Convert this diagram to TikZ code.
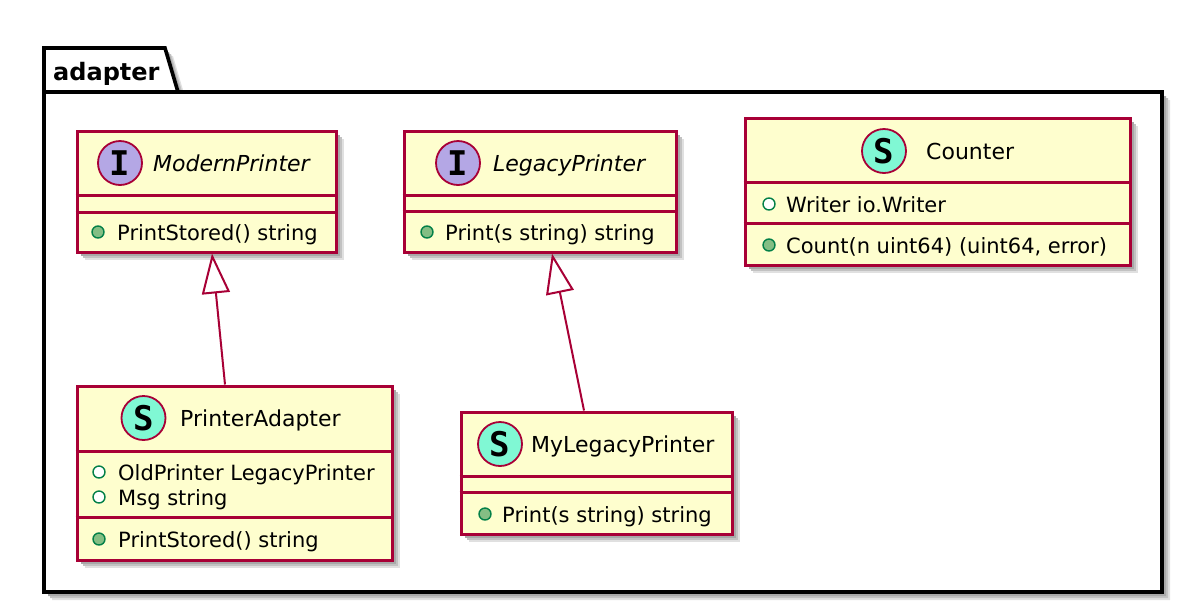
\documentclass[tikz,border=0pt]{standalone}
\usepackage{fontspec}
\setmainfont{DejaVu Sans}
\newfontfamily\spotfont{DejaVu Sans Mono}
\usetikzlibrary{arrows.meta,shadows,positioning}

\definecolor{umlborder}{HTML}{A80036}
\definecolor{umlfill}{HTML}{FEFECE}
\definecolor{ifacespot}{HTML}{B4A7E5}
\definecolor{structspot}{HTML}{80F8D4}
\definecolor{visline}{HTML}{038048}
\definecolor{visfill}{HTML}{84BE84}

\begin{document}
\begin{tikzpicture}[
	%	style def
	x=1pt, y=-1pt,
	pkg line/.style={line width=3.6pt, draw=black},
	soft shadow/.style={
		drop shadow={shadow xshift=8pt, shadow yshift=-8pt, fill=black!12, draw=none, opacity=1},
		drop shadow={shadow xshift=6pt, shadow yshift=-6pt, fill=black!24, draw=none, opacity=1},
		drop shadow={shadow xshift=4pt, shadow yshift=-4pt, fill=black!34, draw=none, opacity=1}},
	classbox/.style={draw=umlborder, fill=umlfill, line width=3pt, inner sep=0pt, soft shadow},
	sep line/.style={draw=umlborder, line width=3pt},
	spot/.style={circle, draw=umlborder, line width=1.8pt, minimum size=44pt, inner sep=0pt, font=\spotfont\bfseries\fontsize{34}{34}\selectfont},
	classname/.style={anchor=base west, inner sep=0pt, font=\fontsize{22}{26}\selectfont},
	member/.style={anchor=base west, inner sep=0pt, font=\fontsize{21}{25}\selectfont},
	field mark/.style={circle, draw=visline, line width=1.4pt, fill=white, minimum size=12pt, inner sep=0pt},
	method mark/.style={field mark, fill=visfill},
	inherit/.style={draw=umlborder, line width=2pt, -{Triangle[length=40pt, width=28pt, fill=white]}}
	]
	\useasboundingbox (0,0) rectangle (1204,614);

	% package frame with its tab
	\path[pkg line, fill=white, soft shadow] (44,592) -- (44,48) -- (165,48) -- (178,92) -- (1162,92) -- (1162,592) -- cycle;
	\draw[pkg line] (44,92) -- (178,92);
	\node[anchor=base west, inner sep=0pt, font=\bfseries\fontsize{24}{28}\selectfont] (pkgname) at (53,80) {adapter};

	% interface ModernPrinter
	\node[classbox, minimum width=259pt, minimum height=121pt] (mp) at (206.5,191.5) {};
	\draw[sep line] (mp.west |- 0,195) -- (mp.east |- 0,195);
	\draw[sep line] (mp.west |- 0,212) -- (mp.east |- 0,212);
	\node[spot, fill=ifacespot] (mpspot) at (120,163) {I};
	\node[classname] (mpname) at (153,171) {\itshape ModernPrinter};
	\node[method mark] (mpm1) at (98,232) {};
	\node[member] (mpm1text) at (117,240) {PrintStored() string};

	% interface LegacyPrinter
	\node[classbox, minimum width=272pt, minimum height=121pt] (lp) at (540,191.5) {};
	\draw[sep line] (lp.west |- 0,195) -- (lp.east |- 0,195);
	\draw[sep line] (lp.west |- 0,211) -- (lp.east |- 0,211);
	\node[spot, fill=ifacespot] (lpspot) at (458,163) {I};
	\node[classname] (lpname) at (493,171) {\itshape LegacyPrinter};
	\node[method mark] (lpm1) at (427,232) {};
	\node[member] (lpm1text) at (445,240) {Print(s string) string};

	% struct Counter
	\node[classbox, minimum width=385pt, minimum height=147pt] (ct) at (937.5,191.5) {};
	\draw[sep line] (ct.west |- 0,182) -- (ct.east |- 0,182);
	\draw[sep line] (ct.west |- 0,223) -- (ct.east |- 0,223);
	\node[spot, fill=structspot] (ctspot) at (884,151) {S};
	\node[classname] (ctname) at (926,159) {Counter};
	\node[field mark] (ctf1) at (769,204) {};
	\node[member] (ctf1text) at (786,212) {Writer io.Writer};
	\node[method mark] (ctm1) at (769,245) {};
	\node[member] (ctm1text) at (786,253) {Count(n uint64) (uint64, error)};

	% struct PrinterAdapter
	\node[classbox, minimum width=315pt, minimum height=174pt] (pa) at (234.5,473) {};
	\draw[sep line] (pa.west |- 0,451) -- (pa.east |- 0,451);
	\draw[sep line] (pa.west |- 0,517) -- (pa.east |- 0,517);
	\node[spot, fill=structspot] (paspot) at (143.5,418) {S};
	\node[classname] (paname) at (180,426) {PrinterAdapter};
	\node[field mark] (paf1) at (99,472) {};
	\node[member] (paf1text) at (118,480) {OldPrinter LegacyPrinter};
	\node[field mark] (paf2) at (99,497) {};
	\node[member] (paf2text) at (118,505) {Msg string};
	\node[method mark] (pam1) at (99,539) {};
	\node[member] (pam1text) at (118,547) {PrintStored() string};

	% struct MyLegacyPrinter
	\node[classbox, minimum width=271pt, minimum height=122pt] (ml) at (596.5,473) {};
	\draw[sep line] (ml.west |- 0,476) -- (ml.east |- 0,476);
	\draw[sep line] (ml.west |- 0,492) -- (ml.east |- 0,492);
	\node[spot, fill=structspot] (mlspot) at (500,444) {S};
	\node[classname] (mlname) at (531,452) {MyLegacyPrinter};
	\node[method mark] (mlm1) at (485,514) {};
	\node[member] (mlm1text) at (502,522) {Print(s string) string};

	% realisations
	\draw[inherit] ([xshift=-9.5]pa.north) -- ([xshift=5.5]mp.south);
	\draw[inherit] ([xshift=-12.5]ml.north) -- ([xshift=12]lp.south);
\end{tikzpicture}
\end{document}
